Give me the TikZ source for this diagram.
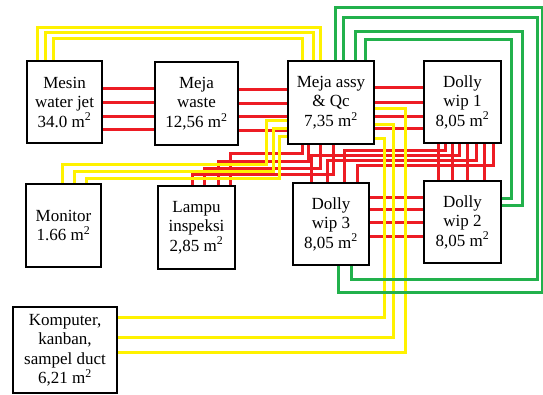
\documentclass[tikz,border=0pt]{standalone}
\usepackage{fontspec}
\setmainfont{Liberation Serif}
\newfontfamily\areafont{Liberation Serif}
\usetikzlibrary{backgrounds}
\definecolor{wirered}{HTML}{ED1C24}
\definecolor{wireyellow}{HTML}{FFF200}
\definecolor{wiregreen}{HTML}{22B14C}

\begin{document}
\begin{tikzpicture}[x=1pt, y=-1pt,
  area/.style={draw=black, line width=2.5pt, fill=white, align=center, inner sep=1pt,
               font=\areafont\fontsize{17}{19.5}\selectfont},
  redline/.style={wirered, line width=3pt},
  yellowline/.style={wireyellow, line width=3pt},
  greenline/.style={wiregreen, line width=3pt}]
  \useasboundingbox (0,0) rectangle (543,394);

  % Work areas
  \node[area, minimum width=75pt, minimum height=82pt] (mesin) at (64.5,102)
        {Mesin\\water jet\\34.0 m\textsuperscript{2}};
  \node[area, minimum width=83pt, minimum height=83pt] (waste) at (196.5,103.5)
        {Meja\\waste\\12,56 m\textsuperscript{2}};
  \node[area, minimum width=86pt, minimum height=83pt] (assy) at (331,102.5)
        {Meja assy\\\& Qc\\7,35 m\textsuperscript{2}};
  \node[area, minimum width=77pt, minimum height=82pt] (dolly1) at (462.5,102)
        {Dolly\\wip 1\\8,05 m\textsuperscript{2}};
  \node[area, minimum width=75pt, minimum height=83pt] (monitor) at (63.5,225.5)
        {Monitor\\1.66 m\textsuperscript{2}};
  \node[area, minimum width=77pt, minimum height=83pt] (lampu) at (196.5,227.5)
        {Lampu\\inspeksi\\2,85 m\textsuperscript{2}};
  \node[area, minimum width=76pt, minimum height=82pt] (dolly3) at (331,224)
        {Dolly\\wip 3\\8,05 m\textsuperscript{2}};
  \node[area, minimum width=77pt, minimum height=82pt] (dolly2) at (462.5,222)
        {Dolly\\wip 2\\8,05 m\textsuperscript{2}};
  \node[area, minimum width=104pt, minimum height=86pt] (komputer) at (65,350)
        {Komputer,\\kanban,\\sampel duct\\6,21 m\textsuperscript{2}};

  \begin{scope}[on background layer]
  % Red lines
  \foreach \y in {88,102,116,129}
    \draw[redline] (mesin.east |- 0,\y) -- (waste.west |- 0,\y);
  \foreach \y in {89,103,116,130}
    \draw[redline] (waste.east |- 0,\y) -- (assy.west |- 0,\y);
  \foreach \y in {87,102,116,128}
    \draw[redline] (assy.east |- 0,\y) -- (dolly1.west |- 0,\y);
  \foreach \y in {197,209,222,236}
    \draw[redline] (dolly3.east |- 0,\y) -- (dolly2.west |- 0,\y);
  \foreach \x in {438,452,467,484}
    \draw[redline] (\x,0 |- dolly1.south) -- (\x,0 |- dolly2.north);
  \foreach \a/\h/\b in {445/150/344, 459/155/311, 476/160/327, 493/165/357}
    \draw[redline] (\a,0 |- dolly1.south) |- (\b,\h) -- (\b,0 |- dolly3.north);
  \foreach \a/\h/\b in {302/153/230, 308/161/218, 320/168/204, 333/174/192}
    \draw[redline] (\a,0 |- assy.south) |- (\b,\h) -- (\b,0 |- lampu.north);

  % Yellow lines
  \foreach \a/\h/\b in {37/27/320, 45/32/313, 53/38/302}
    \draw[yellowline] (\a,0 |- mesin.north) |- (\b,\h) -- (\b,0 |- assy.north);
  \foreach \h/\v/\t/\b in {120/266/164/62, 128/273/171/74, 136/279/178/86}
    \draw[yellowline] (assy.west |- 0,\h) -| (\v,\t) -| (\b,0 |- monitor.north);
  \foreach \h/\v/\t in {108/405/352, 124/393/337, 138/384/317}
    \draw[yellowline] (assy.east |- 0,\h) -| (\v,\t) -- (komputer.east |- 0,\t);

  % Green lines
  \foreach \a/\t/\r/\u/\b in {335/7/542/292/338, 343/17/537/279/351}
    \draw[greenline] (\a,0 |- assy.north) |- (\r,\t) |- (\b,\u) -- (\b,0 |- dolly3.south);
  \foreach \a/\t/\r/\u in {355/31/522/205, 365/39/511/198}
    \draw[greenline] (\a,0 |- assy.north) |- (\r,\t) |- (dolly2.east |- 0,\u);
  \end{scope}
\end{tikzpicture}
\end{document}
